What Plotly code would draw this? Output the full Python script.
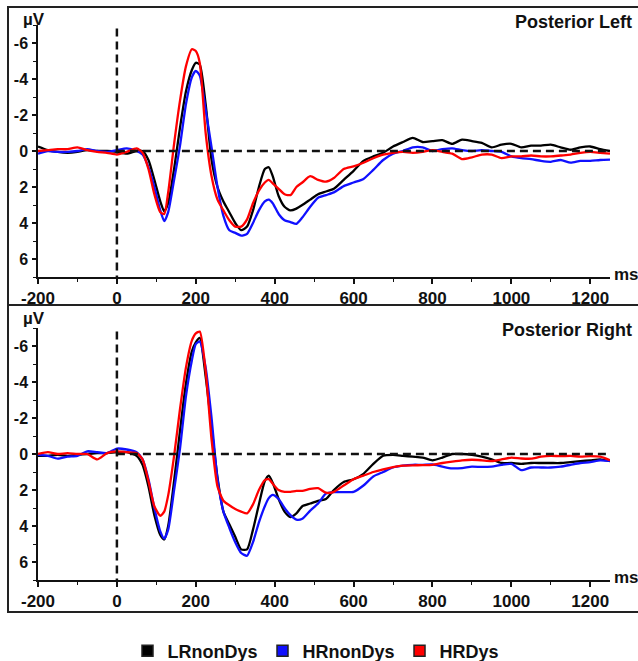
import plotly.graph_objects as go

# ---------------- data ----------------
time_ms = [-200, -175, -150, -125, -100, -75, -50, -25, 0, 25, 50,
           65, 80, 95, 110, 120, 130, 145, 160, 175, 190, 200, 210, 225, 240, 255,
           270, 285, 300, 315, 330, 345, 360, 375, 385, 395, 410, 425, 440, 455, 470,
           490, 510, 530, 550, 575,
           600, 625, 650, 675, 700, 725, 750, 775, 800, 825, 850, 875, 900, 925, 950,
           975, 1000, 1025, 1050, 1075, 1100, 1125, 1150, 1175, 1200, 1225, 1250]

group_names = ["LRnonDys", "HRnonDys", "HRDys"]
panel_titles = ["Posterior Left", "Posterior Right"]

left_LRnonDys = [-0.25, -0.05, 0.05, 0.1, 0.05, -0.05, 0.0, 0.0, 0.05, 0.15, 0.0,
                 0.0, 0.5, 1.6, 2.8, 3.35, 2.9, 1.0, -1.3, -3.3, -4.5, -4.9, -4.8, -2.6, 0.5, 2.0,
                 2.8, 3.4, 4.0, 4.4, 4.2, 3.3, 2.0, 1.0, 0.9, 1.4, 2.5, 3.1, 3.3, 3.2, 3.0,
                 2.7, 2.4, 2.25, 2.1, 1.6,
                 1.1, 0.55, 0.3, 0.1, -0.25, -0.5, -0.73, -0.5, -0.55, -0.6, -0.4, -0.63, -0.55, -0.45, -0.2,
                 -0.35, -0.4, -0.2, -0.3, -0.3, -0.35, -0.2, -0.07, -0.2, -0.25, -0.1, 0.0]
left_HRnonDys = [0.15, 0.0, 0.05, 0.05, 0.0, -0.1, 0.0, 0.05, -0.05, -0.15, 0.0,
                 0.2, 0.9, 2.0, 3.3, 3.9, 3.4, 1.6, -0.3, -2.6, -4.1, -4.45, -4.2, -2.3, -0.2, 2.0,
                 3.6, 4.4, 4.55, 4.7, 4.6, 4.0, 3.3, 2.8, 2.7, 2.9, 3.5, 3.85, 3.95, 4.05, 3.7,
                 3.1, 2.6, 2.45, 2.3, 1.95,
                 1.75, 1.55, 1.05, 0.5, 0.15, 0.0, -0.2, -0.2, 0.0, -0.1, -0.15, -0.05, 0.0, -0.05, 0.0,
                 0.05, 0.3, 0.4, 0.45, 0.55, 0.6, 0.5, 0.65, 0.55, 0.55, 0.5, 0.48]
left_HRDys = [0.0, -0.05, -0.1, -0.1, -0.2, -0.05, 0.05, 0.1, 0.2, 0.05, -0.15,
              0.1, 1.0, 2.4, 3.4, 3.5, 2.3, -0.4, -2.8, -4.7, -5.65, -5.55, -4.9, -1.0, 1.4, 2.7,
              3.3, 3.85, 4.2, 4.2, 3.8, 2.9, 2.2, 1.75, 1.6, 1.8, 2.1, 2.4, 2.45, 2.0, 1.75,
              1.4, 1.6, 1.7, 1.5, 1.0,
              0.85, 0.65, 0.4, 0.2, 0.1, 0.05, 0.1, 0.05, -0.05, 0.05, 0.15, 0.45, 0.35, 0.2, 0.2,
              0.4, 0.3, 0.3, 0.25, 0.3, 0.3, 0.25, 0.2, 0.1, 0.05, 0.1, 0.15]

right_LRnonDys = [0.1, 0.1, 0.05, 0.1, 0.05, 0.0, -0.05, -0.05, -0.1, -0.1, 0.1,
                  0.6, 1.8, 3.4, 4.5, 4.75, 4.0, 1.5, -1.3, -3.9, -5.7, -6.2, -6.45, -4.3, -1.5, 1.3,
                  3.2, 3.9, 4.6, 5.3, 5.3, 4.2, 2.8, 1.5, 1.2, 1.6, 2.5, 3.2, 3.5, 3.3, 2.9,
                  2.75, 2.6, 2.5, 2.0, 1.55,
                  1.4, 1.1, 0.55, 0.1, 0.05, 0.1, 0.15, 0.2, 0.35, 0.2, 0.0, 0.0, 0.05, 0.15, 0.3,
                  0.5, 0.5, 0.55, 0.5, 0.5, 0.5, 0.5, 0.45, 0.4, 0.35, 0.3, 0.4]
right_HRnonDys = [0.05, 0.1, 0.26, 0.15, 0.1, -0.15, -0.1, -0.05, -0.3, -0.25, -0.1,
                  0.3, 1.4, 3.0, 4.3, 4.7, 4.2, 2.0, -0.3, -3.2, -5.2, -6.1, -6.25, -4.8, -2.0, 1.4,
                  3.2, 4.1, 4.9, 5.5, 5.65, 4.9, 3.8, 2.9, 2.45, 2.27, 2.5, 3.0, 3.4, 3.65, 3.6,
                  3.15, 2.75, 2.2, 2.12, 2.12,
                  2.1, 1.75, 1.25, 1.0, 0.75, 0.65, 0.6, 0.6, 0.58, 0.7, 0.8, 0.78, 0.7, 0.72, 0.7,
                  0.6, 0.55, 0.9, 0.75, 0.75, 0.75, 0.7, 0.6, 0.5, 0.45, 0.35, 0.38]
right_HRDys = [0.0, -0.1, 0.0, -0.05, 0.0, 0.0, 0.3, -0.05, -0.15, -0.1, -0.05,
               0.3, 1.5, 2.9, 3.43, 3.2, 2.3, 0.1, -2.5, -4.8, -6.3, -6.7, -6.8, -4.6, -0.8, 1.8,
               2.6, 2.85, 3.05, 3.2, 3.3, 2.8, 2.0, 1.45, 1.4, 1.65, 2.0, 2.1, 2.1, 2.05, 2.05,
               1.94, 1.9, 2.15, 2.1, 1.75,
               1.4, 1.2, 1.0, 0.85, 0.73, 0.65, 0.63, 0.62, 0.6, 0.5, 0.42, 0.35, 0.32, 0.35, 0.39,
               0.3, 0.2, 0.25, 0.26, 0.15, 0.1, 0.12, 0.1, 0.15, 0.12, 0.15, 0.35]

x_tick_vals = [-200, 0, 200, 400, 600, 800, 1000, 1200]
x_tick_text = ["-200", "0", "200", "400", "600", "800", "1000", "1200"]
y_tick_vals = [-6, -4, -2, 0, 2, 4, 6]
y_tick_text = ["-6", "-4", "-2", "0", "2", "4", "6"]

for arr in [left_LRnonDys, left_HRnonDys, left_HRDys,
            right_LRnonDys, right_HRnonDys, right_HRDys]:
    assert len(arr) == len(time_ms), len(arr)

# ---------------- style / layout ----------------
W, H = 638, 661
ML, MR, MT, MB = 38, 28, 25, 81
PW, PH = W - ML - MR, H - MT - MB
colors = ["#000000", "#1010ff", "#ff0000"]
FONT = "Liberation Sans, Arial, sans-serif"


def px_x(p):
    return (p - ML) / PW


def px_y(p):
    return (H - MB - p) / PH


fig = go.Figure()
panels = [(left_LRnonDys, left_HRnonDys, left_HRDys),
          (right_LRnonDys, right_HRnonDys, right_HRDys)]
axis_ids = [("x", "y"), ("x2", "y2")]
for (series, (xa, ya)) in zip(panels, axis_ids):
    for vals, col, name in zip(series, colors, group_names):
        fig.add_trace(go.Scatter(
            x=time_ms, y=vals, mode="lines", xaxis=xa, yaxis=ya,
            line=dict(color=col, width=2.3, shape="spline", smoothing=0.6),
            showlegend=False, name=name, hoverinfo="skip"))

# legend entries (square markers)
for col, name in zip(colors, group_names):
    fig.add_trace(go.Scatter(
        x=[None], y=[None], mode="markers", name=name,
        marker=dict(symbol="square", size=11, color=col,
                    line=dict(color="#222222", width=1.5))))

tick_font = dict(family=FONT, size=17, color="#111111", weight="bold")
ytick_font = dict(family=FONT, size=16, color="#111111", weight="bold")

xaxis_common = dict(range=[-200, 1250], tickvals=x_tick_vals, ticktext=x_tick_text,
                    showgrid=False, zeroline=False, showline=True, linecolor="#111111",
                    linewidth=1.5, ticks="outside", ticklen=5, tickwidth=1.5,
                    tickcolor="#111111", tickfont=tick_font, automargin=False,
                    minor=dict(dtick=100, tick0=0, ticks="outside", ticklen=3,
                               tickwidth=1, tickcolor="#111111"))
yaxis_common = dict(range=[7, -7], tickvals=y_tick_vals, ticktext=y_tick_text,
                    showgrid=False, zeroline=False, showline=True, linecolor="#111111",
                    linewidth=1.5, ticks="outside", ticklen=4, tickwidth=1.5,
                    tickcolor="#111111", tickfont=ytick_font, ticklabelstandoff=1,
                    automargin=False,
                    minor=dict(dtick=1, tick0=0, ticks="outside", ticklen=3,
                               tickwidth=1, tickcolor="#111111"))

top_dom = [px_y(277), 1.0]
bot_dom = [0.0, px_y(328)]

fig.update_layout(
    width=W, height=H, autosize=False,
    margin=dict(l=ML, r=MR, t=MT, b=MB, pad=0),
    paper_bgcolor="white", plot_bgcolor="white",
    xaxis=dict(anchor="y", domain=[0, 1], **xaxis_common),
    yaxis=dict(anchor="x", domain=top_dom, **yaxis_common),
    xaxis2=dict(anchor="y2", domain=[0, 1], **xaxis_common),
    yaxis2=dict(anchor="x2", domain=bot_dom, **yaxis_common),
    legend=dict(orientation="h", xref="container", yref="container",
                x=316 / W, xanchor="center",
                y=(H - 651) / H, yanchor="middle", itemwidth=30,
                font=dict(family=FONT, size=18, color="#111111", weight="bold"),
                bgcolor="rgba(0,0,0,0)", tracegroupgap=0),
    showlegend=True,
)

shapes = []
# dashed zero lines
for xa, ya in axis_ids:
    shapes.append(dict(type="line", xref=xa, yref=ya, x0=0, x1=0, y0=-6.8, y1=7,
                       line=dict(color="#111111", width=2.5, dash="8px,5px")))
    shapes.append(dict(type="line", xref=xa, yref=ya, x0=0, x1=1250, y0=0, y1=0,
                       line=dict(color="#111111", width=2.5, dash="8px,5px")))
# panel frames
for y_top, y_bot in [(7, 305), (305, 612)]:
    shapes.append(dict(type="rect", xref="paper", yref="paper",
                       x0=px_x(8), x1=px_x(646), y0=px_y(y_bot), y1=px_y(y_top),
                       line=dict(color="#222222", width=2), fillcolor="rgba(0,0,0,0)"))
fig.update_layout(shapes=shapes)

ann_font = dict(family=FONT, size=18, color="#111111", weight="bold")
annotations = []
for title, title_y, uv_y, ms_y in [(panel_titles[0], 22, 19, 274),
                                    (panel_titles[1], 330, 319, 577)]:
    annotations.append(dict(text=title, xref="paper", yref="paper", x=px_x(634),
                            y=px_y(title_y), xanchor="right", yanchor="middle",
                            showarrow=False, font=ann_font))
    annotations.append(dict(text="µV", xref="paper", yref="paper", x=px_x(34),
                            y=px_y(uv_y), xanchor="center", yanchor="middle",
                            showarrow=False, font=dict(family=FONT, size=17,
                                                       color="#111111", weight="bold")))
    annotations.append(dict(text="ms", xref="paper", yref="paper", x=px_x(612),
                            y=px_y(ms_y), xanchor="left", yanchor="middle",
                            showarrow=False, font=dict(family=FONT, size=17,
                                                       color="#111111", weight="bold")))
fig.update_layout(annotations=annotations)

fig.write_html("out.html", config={"displayModeBar": False},
               post_script="document.body.style.margin='0';document.body.style.padding='0';")
